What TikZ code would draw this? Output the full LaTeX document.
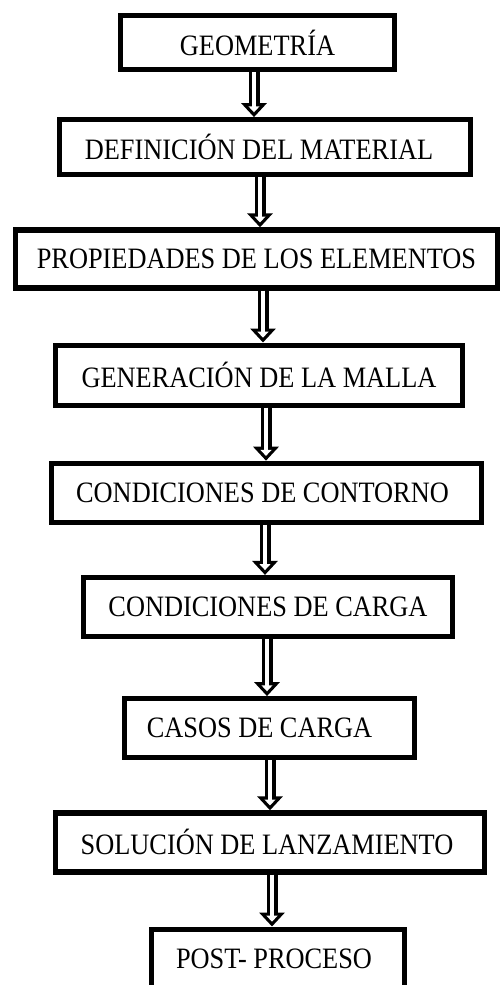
\documentclass[tikz,border=0pt]{standalone}
\usepackage{fontspec}
\setmainfont{Liberation Serif}[FakeStretch=0.89]
\usepackage{tikz}
\usetikzlibrary{arrows.meta,positioning}

\begin{document}
\begin{tikzpicture}[
  node distance=25pt,
  stage/.style={draw=black,line width=2.6pt,fill=white,inner sep=0pt,
                align=center,minimum height=29.5pt,
                font=\fontsize{14.8}{17}\selectfont},
  hollow/.style={draw=black,line width=5.5pt,-{Triangle[length=7pt,width=12.5pt]},
                 postaction={draw=white,line width=2.2pt,shorten >=2.4pt,
                             -{Triangle[length=3pt,width=5.4pt]}}}
]
\useasboundingbox (0,0) rectangle (251.5pt,-492.5pt);
\node[stage,minimum width=137pt,minimum height=27pt] (geo) at (128.75pt,-21.25pt) {GEOMETRÍA};
\node[stage,below=22.5pt of geo,xshift=3.75pt,minimum width=205.5pt,minimum height=27.5pt] (mat)
 {DEFINICIÓN DEL MATERIAL\hspace*{6pt}};
\node[stage,below=25pt of mat,xshift=-4.25pt,minimum width=241pt,minimum height=29pt] (prop)
 {PROPIEDADES DE LOS ELEMENTOS};
\node[stage,below=26pt of prop,xshift=1.25pt,minimum width=203.5pt,minimum height=30pt] (malla)
 {GENERACIÓN DE LA MALLA};
\node[stage,below=26.5pt of malla,xshift=3.75pt,minimum width=215pt] (contorno)
 {CONDICIONES DE CONTORNO\hspace*{4pt}};
\node[stage,below=25pt of contorno,xshift=0.75pt,minimum width=184.5pt] (carga)
 {CONDICIONES DE CARGA};
\node[stage,below=28.5pt of carga,xshift=0.75pt,minimum width=145pt] (casos)
 {CASOS DE CARGA\hspace*{10pt}};
\node[stage,below=25pt of casos,xshift=0.25pt,minimum width=214.5pt] (solucion)
 {SOLUCIÓN DE LANZAMIENTO\hspace*{3pt}};
\node[stage,below=26pt of solucion,xshift=4pt,minimum width=126.5pt] (post)
 {POST- PROCESO\hspace*{4pt}};
\draw[hollow] ([xshift=-1.75pt]geo.south) -- ([xshift=-1.75pt]geo.south |- mat.north);
\draw[hollow] ([xshift=-2.5pt]mat.south) -- ([xshift=-2.5pt]mat.south |- prop.north);
\draw[hollow] ([xshift=3.25pt]prop.south) -- ([xshift=3.25pt]prop.south |- malla.north);
\draw[hollow] ([xshift=3.5pt]malla.south) -- ([xshift=3.5pt]malla.south |- contorno.north);
\draw[hollow] ([xshift=-0.75pt]contorno.south) -- ([xshift=-0.75pt]contorno.south |- carga.north);
\draw[hollow] ([xshift=-0.5pt]carga.south) -- ([xshift=-0.5pt]carga.south |- casos.north);
\draw[hollow] ([xshift=0.25pt]casos.south) -- ([xshift=0.25pt]casos.south |- solucion.north);
\draw[hollow] ([xshift=1pt]solucion.south) -- ([xshift=1pt]solucion.south |- post.north);
\end{tikzpicture}
\end{document}
